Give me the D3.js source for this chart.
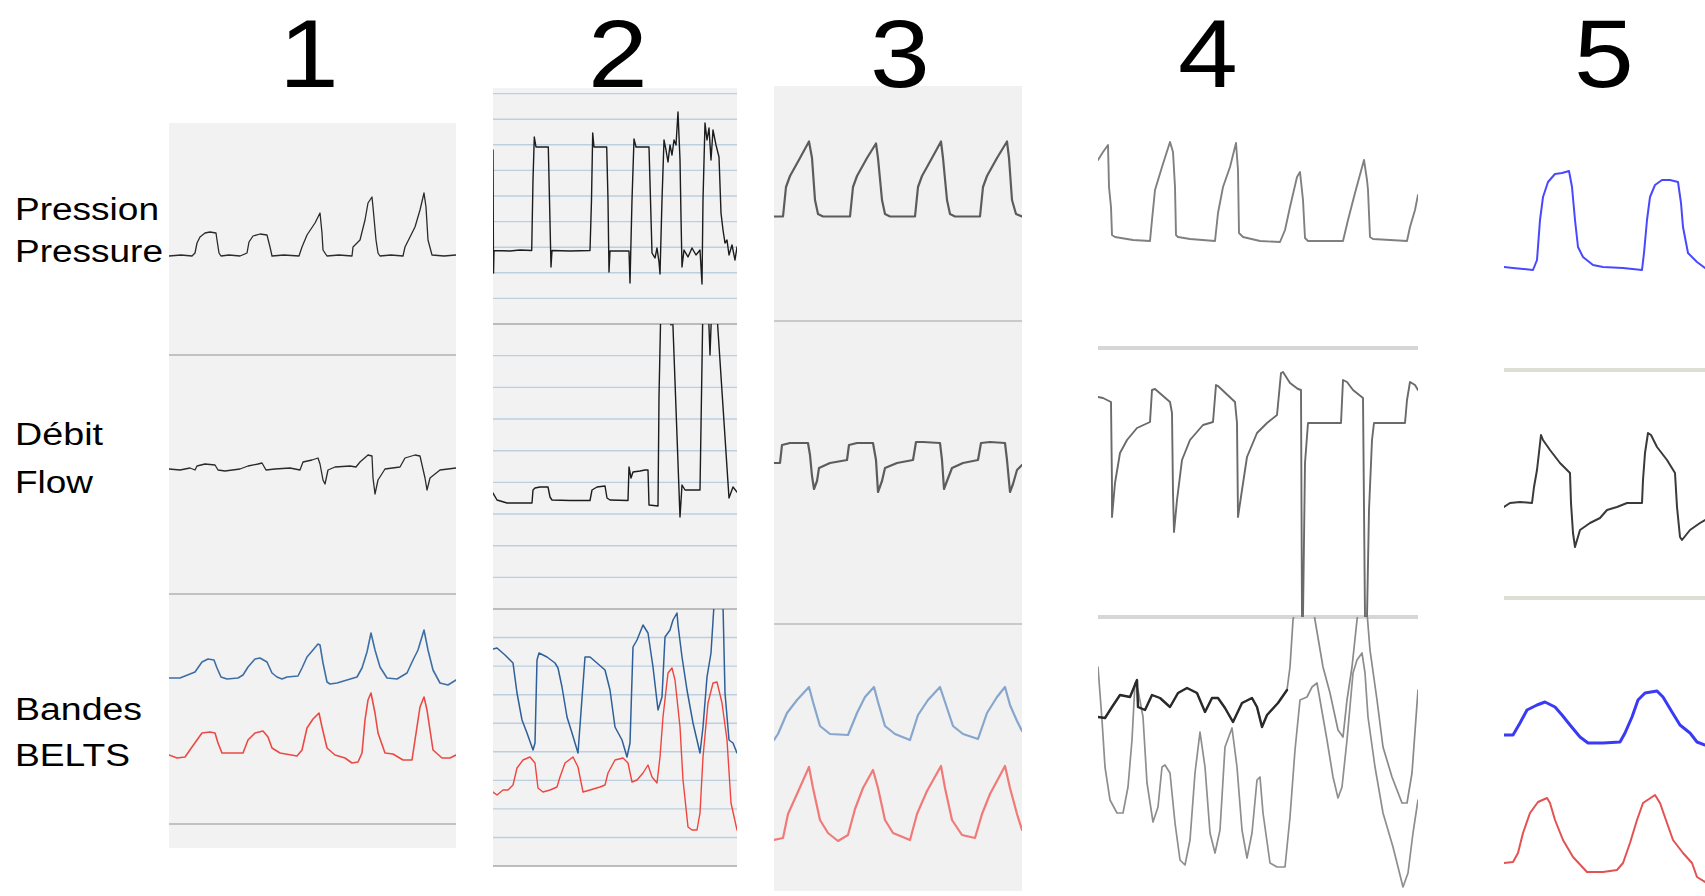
<!DOCTYPE html>
<html><head><meta charset="utf-8">
<script src="https://cdn.jsdelivr.net/npm/d3@7"></script>
<style>html,body{margin:0;padding:0;background:#fff;overflow:hidden}</style>
</head><body>
<svg id="chart" width="1705" height="896"></svg>
<script>
// ---------- labels ----------
const panelTitles = ["1", "2", "3", "4", "5"];
const rowLabels = [["Pression", "Pressure"], ["Débit", "Flow"], ["Bandes", "BELTS"]];

// ---------- data: [time (samples), amplitude (units above strip floor)] ----------
// Panel 1
const p1Pressure = [[0,99],[12,100],[23,99],[26,102],[28,112],[31,118],[36,122],[41,123],[47,122],[48,115],[50,102],[52,99],[60,100],[71,99],[78,102],[80,113],[84,119],[91,121],[98,120],[101,108],[103,99],[115,100],[130,99],[133,108],[138,120],[146,132],[151,142],[153,122],[154,105],[158,99],[170,100],[183,99],[184,108],[191,115],[196,135],[199,152],[203,158],[204,148],[207,115],[209,102],[211,99],[222,100],[234,99],[236,108],[241,118],[246,128],[251,145],[255,162],[257,148],[259,115],[263,100],[275,99],[287,100]];
const p1Flow = [[0,125],[11,124],[21,126],[26,124],[28,128],[36,130],[46,129],[49,124],[56,123],[71,125],[79,128],[89,130],[93,131],[97,124],[106,125],[121,126],[131,124],[134,132],[143,134],[149,136],[151,130],[154,114],[156,110],[159,124],[166,127],[181,128],[187,127],[191,132],[199,139],[203,138],[204,116],[206,100],[209,114],[216,125],[231,127],[236,136],[246,139],[251,138],[256,116],[258,104],[261,116],[271,124],[287,126]];
const p1BeltBlue = [[0,146],[11,146],[21,150],[26,152],[33,162],[39,165],[45,164],[48,156],[52,147],[58,145],[69,146],[74,149],[79,157],[86,165],[91,166],[98,162],[103,151],[108,147],[113,145],[118,147],[129,148],[133,156],[138,167],[144,174],[149,180],[151,179],[154,161],[158,142],[161,140],[168,141],[178,144],[188,147],[193,156],[198,172],[202,191],[206,174],[211,157],[218,146],[228,145],[238,151],[244,164],[249,174],[255,194],[259,174],[264,154],[271,141],[279,139],[287,144]];
const p1BeltRed = [[0,69],[8,66],[16,67],[23,77],[28,84],[33,91],[41,92],[46,91],[49,81],[53,71],[61,71],[74,71],[79,84],[86,91],[94,93],[99,87],[103,76],[111,71],[128,68],[133,74],[138,96],[144,105],[150,111],[153,97],[158,76],[166,69],[176,66],[183,61],[189,62],[193,71],[196,104],[199,124],[202,131],[206,111],[209,91],[216,71],[224,70],[234,64],[243,64],[246,84],[251,117],[255,127],[258,114],[264,74],[273,66],[281,66],[287,69]];

// Panel 2
const p2Pressure = [[0,174],[0.5,51],[1,73.5],[17,73],[27,74],[38.7,73.5],[40,144],[41.3,187],[43,177],[55.3,177],[56.5,124],[58,57],[59,73.5],[77,73],[97,73.5],[98.5,124],[99.7,191],[101,177],[113.7,177],[115,124],[116,52],[117,73],[136,73],[137,41],[139,124],[141,185],[143,177],[156,177],[157.5,124],[159,71],[162,66],[164,76],[166,62],[167,50],[169,124],[171,184],[173,174],[175,162],[177,179],[179,169],[181,184],[183,179],[185,212],[187,164],[188,107],[189,57],[191,74],[195,67],[199,76],[203,69],[207,74],[209,40],[210,124],[212,201],[214,184],[216,196],[218,164],[220,194],[223,179],[226,167],[228,111],[230,94],[232,81],[234,84],[236,69],[239,79],[242,64],[244,77]];
const p2Flow = [[0,116],[4,109],[14,106],[39,106],[40,119],[42,121],[47,122],[55,122],[57,112],[59,109],[77,108.5],[97,108.5],[99,119],[104,122],[112,123],[114,111],[117,109],[135,108.5],[136,142],[138,131],[140,137],[147,138],[152,139],[155,139],[156,104],[165,103],[166,212],[168,309],[175,309],[178,284],[179,309],[187,92],[189,124],[192,119],[207,119],[210,309],[215,309],[217,254],[219,309],[223,309],[236,111],[240,122],[244,117]];
const p2BeltBlue = [[0,217],[4,218],[12,211],[20,203],[24,173],[29,146],[34,133],[40,116],[42,123],[44,206],[46,213],[54,209],[62,203],[65,198],[69,179],[74,149],[79,133],[85,113],[92,209],[97,209],[104,203],[112,196],[117,176],[122,139],[129,126],[134,109],[137,123],[140,219],[144,226],[150,241],[155,233],[160,199],[165,156],[169,169],[172,229],[177,236],[180,246],[184,253],[185,241],[189,209],[194,176],[200,143],[207,113],[210,139],[214,189],[218,213],[221,261],[230,261],[232,173],[236,126],[240,123],[244,113]];
const p2BeltRed = [[0,74],[4,71],[10,76],[15,76],[20,81],[24,98],[30,106],[37,109],[42,103],[45,78],[50,74],[57,76],[64,79],[67,89],[72,103],[80,109],[85,99],[90,74],[97,76],[107,79],[112,81],[115,93],[122,106],[130,108],[135,103],[139,84],[144,86],[150,93],[155,101],[159,89],[164,83],[167,109],[170,149],[175,193],[179,198],[182,186],[187,139],[190,86],[195,39],[199,36],[204,36],[207,53],[210,109],[215,163],[220,183],[224,184],[229,163],[234,126],[238,63],[244,36]];

// Panel 3
const p3Pressure = [[0,104.5],[9,104.5],[12,134],[16,145],[26,163],[35,179.5],[38,163],[41,121],[44,107],[49,104.5],[76,104.5],[79,134],[83,145],[93,163],[102,177.5],[104,163],[108,121],[111,107],[116,104.5],[141,104.5],[144,134],[148,145],[158,163],[167,179.5],[169,163],[173,121],[176,107],[181,104.5],[206,104.5],[209,134],[213,145],[223,163],[233,179.5],[235,163],[238,121],[242,107],[248,104.5]];
const p3Flow = [[0,161],[6,161],[8,179],[16,181],[34,181],[36,169],[38,148],[40,135],[43,143],[45,156],[56,161],[73,164],[75,179],[83,181],[99,181],[102,164],[104,132],[108,143],[111,156],[123,161],[139,164],[142,182],[149,182],[166,181],[168,164],[170,135],[173,143],[178,156],[189,161],[204,164],[207,181],[216,182],[231,181],[233,164],[236,132],[239,140],[243,154],[248,159]];
const p3BeltBlue = [[0,151],[4,157],[13,178],[23,191],[35,204],[39,189],[46,165],[56,157],[74,156],[83,178],[91,194],[100,204],[104,189],[111,165],[121,157],[136,151],[144,176],[154,191],[166,204],[171,189],[179,165],[189,157],[204,152],[213,178],[223,194],[231,204],[236,186],[243,170],[248,160]];
const p3BeltRed = [[0,51],[9,53],[14,77],[23,97],[35,124],[39,103],[46,71],[54,58],[64,50],[74,56],[81,82],[89,103],[99,121],[104,103],[111,71],[119,58],[136,51],[143,77],[153,100],[167,125],[171,103],[178,71],[188,56],[201,53],[208,77],[216,97],[231,125],[236,103],[243,77],[248,61]];

// Panel 4
const p4Pressure = [[0,188],[5,196],[10,203],[11,161],[13,141],[14,113],[17,111],[35,108],[52,107],[54,128],[57,158],[64,181],[72,206],[75,196],[77,161],[78,113],[80,111],[92,109],[117,107],[120,135],[125,161],[132,181],[138,205],[140,178],[141,115],[145,111],[162,107],[182,106],[187,118],[192,141],[199,171],[202,176],[205,148],[207,110],[210,107],[245,107],[250,128],[257,155],[266,188],[269,168],[270,158],[272,111],[275,109],[309,107],[312,121],[317,138],[320,153]];
const p4Flow = [[0,220],[5,219],[13,215],[14,130],[14,100],[17,134],[22,164],[29,177],[39,189],[52,195],[54,227],[57,228],[72,215],[74,204],[75,124],[76,85],[79,117],[84,157],[92,177],[105,192],[115,195],[118,232],[120,231],[137,215],[139,194],[140,100],[144,127],[149,160],[159,184],[169,194],[179,202],[183,244],[185,245],[192,234],[200,228],[203,227],[204,0],[205,0],[207,154],[210,194],[225,194],[243,194],[245,237],[249,235],[255,227],[265,219],[267,0],[269,0],[271,107],[274,177],[276,194],[307,194],[309,217],[312,235],[317,232],[320,227]];
const p4BeltA = [[0,179],[7,178],[14,189],[22,201],[32,199],[39,216],[40,189],[47,186],[54,201],[62,198],[72,189],[80,203],[89,208],[99,203],[107,184],[114,198],[120,198],[127,188],[135,174],[144,193],[154,198],[159,189],[164,169],[169,181],[180,193],[189,206],[192,229],[195,276],[199,296],[214,296],[217,276],[225,229],[232,203],[240,166],[245,159],[249,196],[254,229],[259,276],[262,296],[268,296],[272,246],[279,196],[285,149],[294,119],[304,93],[309,93],[314,123],[320,206]];
const p4BeltB = [[0,229],[4,176],[7,129],[12,96],[19,83],[25,83],[30,109],[34,156],[37,213],[40,206],[45,179],[49,113],[55,74],[60,89],[64,129],[67,131],[72,123],[77,73],[82,36],[87,31],[92,56],[97,123],[102,164],[107,129],[112,63],[117,43],[122,66],[127,149],[134,168],[139,129],[144,66],[149,38],[154,63],[159,116],[162,119],[165,83],[172,33],[179,29],[187,29],[192,79],[197,146],[202,196],[209,199],[214,209],[219,213],[222,196],[229,156],[235,119],[240,98],[244,109],[249,156],[255,223],[259,236],[264,243],[267,223],[270,179],[277,129],[285,83],[295,49],[305,9],[310,23],[315,63],[320,96]];

// Panel 5
const p5Pressure = [[0,103],[9,102],[29,100],[33,110],[36,150],[39,173],[44,188],[51,196],[58,197],[65,199],[68,183],[71,150],[74,123],[79,113],[89,105],[99,103],[119,102],[138,100],[140,117],[143,150],[146,173],[151,185],[158,190],[166,190],[174,188],[177,167],[179,143],[184,117],[193,108],[201,102]];
const p5Flow = [[0,91],[6,95],[16,96],[28,95],[30,111],[33,128],[37,163],[39,158],[46,148],[56,135],[66,125],[67,95],[69,65],[71,51],[76,68],[86,75],[96,80],[103,88],[113,91],[123,95],[138,95],[139,118],[141,145],[144,165],[147,163],[153,151],[163,138],[171,125],[173,91],[176,61],[178,58],[186,68],[196,75],[201,78]];
const p5BeltBlue = [[0,161],[9,161],[16,173],[23,186],[33,191],[41,194],[51,189],[58,181],[66,171],[76,159],[84,153],[99,153],[116,154],[121,163],[128,179],[134,196],[141,203],[153,205],[159,199],[168,184],[176,171],[186,163],[193,154],[201,151]];
const p5BeltRed = [[0,33],[9,34],[14,43],[19,63],[26,83],[34,94],[43,98],[46,93],[51,76],[59,56],[69,39],[83,24],[99,24],[113,26],[119,33],[126,53],[133,76],[139,93],[151,101],[156,93],[163,73],[169,56],[179,43],[188,33],[193,19],[201,14]];

// ---------- layout (positions / styles) ----------
const panels = [
  {left:169, right:456, top:123, bottom:848, bg:"#f2f2f2", strips:[[123,355],[355,594],[594,824]],
   dividers:[355,594,824], divColor:"#c2c2c2", divWidth:2, titleX:309},
  {left:493, right:737, top:88, bottom:866, bg:"#f2f2f2", strips:[[88,324],[324,609],[609,866]],
   dividers:[324,609,866], divColor:"#a9a9a9", divWidth:1.6, titleX:618,
   grid:{color:"#bccfdf", steps:[25.6, 31.67, 28.56], counts:[9,8,8]}},
  {left:774, right:1022, top:86, bottom:891, bg:"#f1f1f1", strips:[[86,321],[321,624],[624,891]],
   dividers:[321,624], divColor:"#c9c9c9", divWidth:2, titleX:900},
  {left:1098, right:1418, top:100, bottom:896, bg:null, strips:[[100,348],[348,617],[617,896]],
   dividers:[348,617], divColor:"#d6d6d6", divWidth:4, titleX:1208},
  {left:1504, right:1705, top:100, bottom:896, bg:null, strips:[[100,370],[370,598],[598,896]],
   dividers:[370,598], divColor:"#deddd6", divWidth:4, titleX:1604}
];

const traces = [
  {p:0, s:0, data:p1Pressure, color:"#2b2b2b", w:1.3},
  {p:0, s:1, data:p1Flow, color:"#2b2b2b", w:1.3},
  {p:0, s:2, data:p1BeltBlue, color:"#3d6fa5", w:1.6},
  {p:0, s:2, data:p1BeltRed, color:"#ea4a43", w:1.6},
  {p:1, s:0, data:p2Pressure, color:"#1c1c1c", w:1.4},
  {p:1, s:1, data:p2Flow, color:"#1c1c1c", w:1.4},
  {p:1, s:2, data:p2BeltBlue, color:"#2f5f99", w:1.5},
  {p:1, s:2, data:p2BeltRed, color:"#ef4540", w:1.4},
  {p:2, s:0, data:p3Pressure, color:"#5c5c5c", w:2.2},
  {p:2, s:1, data:p3Flow, color:"#5c5c5c", w:2.2},
  {p:2, s:2, data:p3BeltBlue, color:"#86a6cc", w:2.2},
  {p:2, s:2, data:p3BeltRed, color:"#f07a78", w:2.2},
  {p:3, s:0, data:p4Pressure, color:"#808080", w:1.9},
  {p:3, s:1, data:p4Flow, color:"#6a6a6a", w:1.9},
  {p:3, s:2, data:p4BeltB, color:"#8e8e8e", w:1.7},
  {p:3, s:2, data:p4BeltA, color:"#8a8a8a", w:1.7},
  {p:3, s:2, data:p4BeltA.filter(d => d[0] <= 189), color:"#2a2a2a", w:2.4},
  {p:4, s:0, data:p5Pressure, color:"#4848ff", w:2},
  {p:4, s:1, data:p5Flow, color:"#3a3a3a", w:2},
  {p:4, s:2, data:p5BeltBlue, color:"#3a3af5", w:3},
  {p:4, s:2, data:p5BeltRed, color:"#e35252", w:2}
];

const svg = d3.select("#chart");
const defs = svg.append("defs");
const FONT = "'Liberation Sans', Arial, Helvetica, sans-serif";

panels.forEach((P, pi) => {
  const g = svg.append("g");
  if (P.bg) g.append("rect").attr("x", P.left).attr("y", P.top)
      .attr("width", P.right - P.left).attr("height", P.bottom - P.top).attr("fill", P.bg);
  if (P.grid) {
    const lines = [];
    P.strips.forEach((s, si) => {
      const n = P.grid.counts[si], st = P.grid.steps[si];
      for (let k = 1; k <= n; k++) lines.push(si === 0 ? s[1] - k * st : s[0] + k * st);
    });
    g.selectAll("line.grid").data(lines).join("line").attr("class", "grid")
      .attr("x1", P.left).attr("x2", P.right).attr("y1", d => d).attr("y2", d => d)
      .attr("stroke", P.grid.color).attr("stroke-width", 1.4);
  }
  g.selectAll("line.div").data(P.dividers).join("line").attr("class", "div")
    .attr("x1", P.left).attr("x2", P.right).attr("y1", d => d).attr("y2", d => d)
    .attr("stroke", P.divColor).attr("stroke-width", P.divWidth);
  P.strips.forEach((s, si) => {
    defs.append("clipPath").attr("id", `clip${pi}_${si}`).append("rect")
      .attr("x", P.left).attr("y", s[0]).attr("width", P.right - P.left).attr("height", s[1] - s[0]);
  });
  svg.append("text").attr("transform", `translate(${P.titleX},87) scale(1.12,1)`)
    .attr("text-anchor", "middle").attr("font-family", FONT).attr("font-size", 96)
    .attr("fill", "#000").text(panelTitles[pi]);
});

traces.forEach(T => {
  const P = panels[T.p], s = P.strips[T.s];
  const x = d3.scaleLinear().domain([0, P.right - P.left]).range([P.left, P.right]);
  const y = d3.scaleLinear().domain([0, s[1] - s[0]]).range([s[1], s[0]]);
  const line = d3.line().x(d => x(d[0])).y(d => y(d[1]));
  svg.append("path").attr("d", line(T.data)).attr("fill", "none")
    .attr("stroke", T.color).attr("stroke-width", T.w)
    .attr("stroke-linejoin", "round").attr("stroke-linecap", "round")
    .attr("clip-path", `url(#clip${T.p}_${T.s})`);
});

// row labels
const labelPos = [[220, 262], [445, 493], [720, 766]];
const labelLen = [[144, 148], [88, 78], [127, 115]];
rowLabels.forEach((pair, i) => pair.forEach((t, j) => {
  svg.append("text").attr("x", 15).attr("y", labelPos[i][j])
    .attr("font-family", FONT).attr("font-size", 31).attr("fill", "#000")
    .attr("textLength", labelLen[i][j]).attr("lengthAdjust", "spacingAndGlyphs").text(t);
}));
</script>
</body></html>
